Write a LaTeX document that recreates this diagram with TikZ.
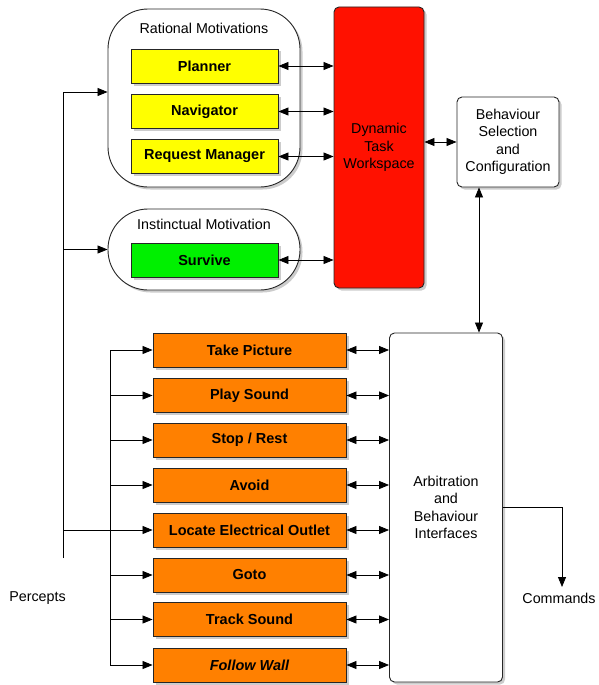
\documentclass[tikz,border=0pt]{standalone}
\usepackage{fontspec}
\setmainfont{Liberation Sans}
\usetikzlibrary{arrows.meta,shadows}
\definecolor{motiveyellow}{HTML}{FFFF00}
\definecolor{survivegreen}{HTML}{00F000}
\definecolor{workspacered}{HTML}{FF1100}
\definecolor{behaviourorange}{HTML}{FF8000}

\begin{document}
\begin{tikzpicture}[x=1pt,y=-1pt,
	oneway/.style={thick, -{Triangle[length=10pt,width=8pt]}},
	twoway/.style={thick, {Triangle[length=10pt,width=8pt]}-{Triangle[length=10pt,width=8pt]}},
	every node/.style={font=\fontsize{14.3}{17.5}\selectfont},
	box/.style={draw=black!85, line width=0.9pt, drop shadow={shadow xshift=2.5pt,shadow yshift=-2.5pt,opacity=0.4}},
	motive/.style={box, minimum width=147pt, minimum height=34pt, font=\fontsize{14.5}{17.5}\selectfont\bfseries},
	behaviour/.style={box, fill=behaviourorange, minimum width=193pt, minimum height=34pt, font=\fontsize{14.5}{17.5}\selectfont\bfseries},
	motivegroup/.style={box, fill=white, rounded corners=40pt, minimum width=192pt},
	panel/.style={box, rounded corners=5pt, align=center}
	]
	\useasboundingbox (0,0) rectangle (598,685);
	
	% Rational motivations
	\node[motivegroup, minimum height=178pt] (rational) at (204,98) {};
	\node (rationaltitle) at (204,28) {Rational Motivations};
	\node[motive, fill=motiveyellow] (planner) at (204.5,66) {Planner};
	\node[motive, fill=motiveyellow] (navigator) at (204.5,111.5) {Navigator};
	\node[motive, fill=motiveyellow] (request) at (204.5,156.5) {Request Manager};
	
	% Instinctual motivation
	\node[motivegroup, minimum height=81pt] (instinct) at (204,249.5) {};
	\node (instincttitle) at (204,224) {Instinctual Motivation};
	\node[motive, fill=survivegreen] (survive) at (204.5,260) {Survive};
	
	% Workspace and selection
	\node[panel, fill=workspacered, minimum width=90pt, minimum height=281pt] (workspace) at (379,147.5) {Dynamic\\Task\\Workspace};
	\node[panel, fill=white, minimum width=102pt, minimum height=90pt] (selection) at (508,142) {Behaviour\\Selection\\and\\Configuration};
	\node[panel, fill=white, minimum width=113pt, minimum height=349pt] (arbitration) at (446,507.5) {Arbitration\\and\\Behaviour\\Interfaces};
	
	% Behaviours
	\foreach \y/\n/\t in {350/takepicture/Take Picture, 395.5/playsound/Play Sound, 440/stoprest/{Stop / Rest}, 485/avoid/Avoid, 530/locate/Locate Electrical Outlet, 575/goto/Goto, 619.5/tracksound/Track Sound, 665/followwall/{\itshape Follow Wall}}
	{
		\node[behaviour] (\n) at (249.5,\y) {\t};
	}
	
	% Motivations to workspace
	\foreach \n in {planner,navigator,request,survive}
		\draw[twoway] (\n.east) -- (\n.east -| workspace.west);
	\draw[twoway] (workspace.east |- selection.west) -- (selection.west);
	\coordinate (selectiontap) at (479,0);
	\draw[twoway] (selection.south -| selectiontap) -- (arbitration.north -| selectiontap);
	
	% Percepts
	\coordinate (perceptstop) at (63,92);
	\coordinate (perceptsbottom) at (63,558);
	\coordinate (feed) at (110,0);
	\node (percepts) at (37.5,598) {Percepts};
	\draw[thick] (perceptsbottom) -- (perceptstop);
	\draw[oneway] (perceptstop) -- (perceptstop -| rational.west);
	\draw[oneway] (instinct.west -| perceptstop) -- (instinct.west);
	\draw[thick] (locate.west -| perceptstop) -- (locate.west -| feed);
	\draw[thick] (takepicture.west -| feed) -- (followwall.west -| feed);
	\foreach \n in {takepicture,playsound,stoprest,avoid,locate,goto,tracksound,followwall}
	{
		\draw[oneway] (\n.west -| feed) -- (\n.west);
		\draw[twoway] (\n.east) -- (\n.east -| arbitration.west);
	}
	
	% Commands
	\coordinate (commandsend) at (562,587);
	\node (commands) at (559,598) {Commands};
	\draw[oneway] (arbitration.east) -| (commandsend);
	
\end{tikzpicture}
\end{document}
